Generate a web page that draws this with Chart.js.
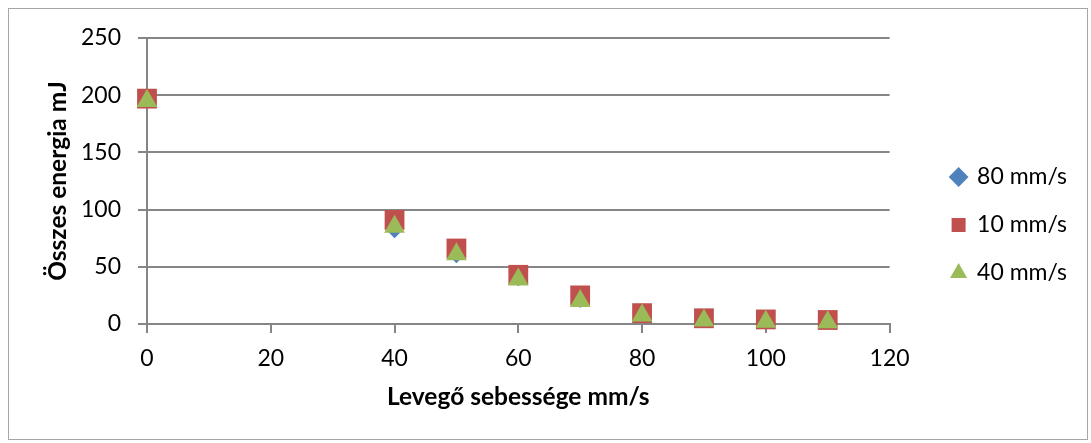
<!DOCTYPE html>
<html>
<head>
<meta charset="utf-8">
<script src="https://cdn.jsdelivr.net/npm/chart.js@4.4.0/dist/chart.umd.min.js"></script>
<style>
  body { margin: 0; background: #fff; }
  #wrap { width: 1091px; height: 443px; }
</style>
</head>
<body>
<div id="wrap"><canvas id="myChart" width="1091" height="443"></canvas></div>
<script>
var speeds = [0, 40, 50, 60, 70, 80, 90, 100, 110];
var energy80 = [197, 82, 60, 40, 21, 8, 4, 3, 2];
var energy10 = [197, 91, 66, 43, 25, 9.5, 5, 4, 3.5];
var energy40 = [195, 85, 61, 39, 20, 7.5, 3, 2, 1.5];

var seriesNames = ['80 mm/s', '10 mm/s', '40 mm/s'];
var xTicks = [0, 20, 40, 60, 80, 100, 120];
var yTicks = [0, 50, 100, 150, 200, 250];

var fontName = 'Lato, "Liberation Sans", sans-serif';
var axisGray = '#868686';

function points(values) {
    var out = [];
    for (var i = 0; i < speeds.length; i++) {
        out.push({ x: speeds[i], y: values[i] });
    }
    return out;
}

// thin frame around the whole chart
var frame = {
    id: 'frame',
    afterDraw: function (chart) {
        var ctx = chart.ctx;
        ctx.save();
        ctx.strokeStyle = '#a6a6a6';
        ctx.lineWidth = 1;
        ctx.strokeRect(8.5, 8.5, chart.width - 12, chart.height - 12);
        ctx.restore();
    }
};

function createChart() {
    var ctx = document.getElementById('myChart').getContext('2d');
    new Chart(ctx, {
        type: 'scatter',
        data: {
            datasets: [{
                label: seriesNames[0],
                data: points(energy80),
                pointStyle: 'rectRot',
                pointRadius: 8,
                pointHoverRadius: 8,
                backgroundColor: '#4f81bd',
                borderColor: '#4f81bd',
                borderWidth: 0,
                order: 3
            }, {
                label: seriesNames[1],
                data: points(energy10),
                pointStyle: 'rect',
                pointRadius: 14,
                pointHoverRadius: 14,
                backgroundColor: '#c0504d',
                borderColor: '#c0504d',
                borderWidth: 0,
                order: 2
            }, {
                label: seriesNames[2],
                data: points(energy40),
                pointStyle: 'triangle',
                pointRadius: 12,
                pointHoverRadius: 12,
                backgroundColor: '#9bbb59',
                borderColor: '#9bbb59',
                borderWidth: 0,
                order: 1
            }]
        },
        options: {
            responsive: false,
            animation: false,
            clip: false,
            layout: { padding: { left: 43, right: 14, top: 38, bottom: 31 } },
            plugins: {
                tooltip: { enabled: false },
                legend: {
                    position: 'right',
                    labels: {
                        usePointStyle: true,
                        boxWidth: 14,
                        boxHeight: 14,
                        padding: 25,
                        color: '#000',
                        font: { family: fontName, size: 23 },
                        sort: function (a, b) { return a.datasetIndex - b.datasetIndex; }
                    }
                }
            },
            scales: {
                x: {
                    type: 'linear',
                    min: 0,
                    max: 120,
                    afterBuildTicks: function (axis) {
                        axis.ticks = xTicks.map(function (v) { return { value: v }; });
                    },
                    afterFit: function (axis) { axis.height = 88; },
                    border: { color: axisGray, width: 2 },
                    grid: { drawOnChartArea: false, color: axisGray, lineWidth: 2, tickLength: 9 },
                    ticks: { color: '#000', padding: 12, font: { family: fontName, size: 23 } },
                    title: {
                        display: true,
                        text: 'Levegő sebessége mm/s',
                        color: '#000',
                        padding: 0,
                        font: { family: fontName, size: 24.5, weight: 'bold' }
                    }
                },
                y: {
                    min: 0,
                    max: 250,
                    afterBuildTicks: function (axis) {
                        axis.ticks = yTicks.map(function (v) { return { value: v }; });
                    },
                    afterFit: function (axis) { axis.width = 104; },
                    border: { color: axisGray, width: 2 },
                    grid: { color: axisGray, lineWidth: 2, tickLength: 9 },
                    ticks: { color: '#000', padding: 17, font: { family: fontName, size: 23 } },
                    title: {
                        display: true,
                        text: 'Összes energia mJ',
                        color: '#000',
                        padding: 0,
                        font: { family: fontName, size: 24.5, weight: 'bold' }
                    }
                },
                // empty strip between the plot and the legend
                gap: {
                    type: 'linear',
                    position: 'right',
                    display: true,
                    afterFit: function (axis) { axis.width = 37; },
                    border: { display: false },
                    grid: { display: false },
                    ticks: { display: false }
                }
            }
        },
        plugins: [frame]
    });
}
createChart();
</script>
</body>
</html>
